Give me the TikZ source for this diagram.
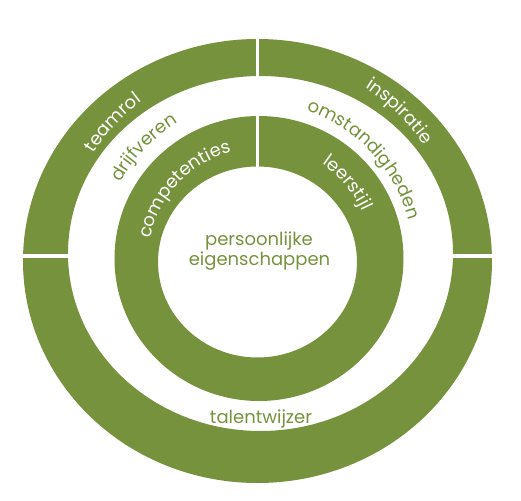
\documentclass[tikz,border=0pt]{standalone}
\usepackage{fontspec}
\setmainfont{Poppins}
\usetikzlibrary{decorations.text}
\definecolor{ringgreen}{HTML}{76923C}
\newcommand{\lblfont}{\fontsize{13.5}{16}\selectfont}
\tikzstyle{ring}=[fill=ringgreen,even odd rule]
\tikzstyle{gap}=[draw=white,line width=2.4pt]
\tikzstyle{mid}=[text=ringgreen,font=\lblfont,anchor=base,inner sep=0pt]
\tikzset{
  onring/.style={decorate,decoration={text along path,text align=center,
    text={|\lblfont\color{white}|#1}}},
  inwhite/.style={decorate,decoration={text along path,text align=center,
    text={|\lblfont\color{ringgreen}|#1}}}
}

\begin{document}
\begin{tikzpicture}[x=0.75pt,y=0.75pt]
  \useasboundingbox (-258,-242) rectangle (263,258);
  \begin{scope}
    \fill[ring] (-0.5,-3) ellipse [x radius=234.5,y radius=222]
                (2.5,4.5) ellipse [x radius=192.5,y radius=177.5];
    \fill[ring] (1,-0.5) ellipse [x radius=144.5,y radius=142.5]
                (-0.5,-4) ellipse [x radius=99.5,y radius=95.5];
    \draw[gap] (-0.5,230) -- (-0.5,85);
    \draw[gap,line width=3pt] (-265,2.5) -- (-175,2.5);
    \draw[gap,line width=3pt] (175,2.5) -- (265,2.5);
  \end{scope}
  \begin{scope}
    \path[onring=teamrol] (182:195) arc[start angle=182,end angle=92,radius=195];
    \path[inwhite=drijfveren] (181:157) arc[start angle=181,end angle=91,radius=157];
    \path[onring=competenties] (182:109) arc[start angle=182,end angle=92,radius=109];
    \path[onring=inspiratie] (91:201) arc[start angle=91,end angle=1,radius=201];
    \path[inwhite=omstandigheden] (88:155) arc[start angle=88,end angle=-2,radius=155];
    \path[onring=leerstijl] (85:114) arc[start angle=85,end angle=-5,radius=114];
  \end{scope}
  \node[mid] (pers) at (1,13) {persoonlijke};
  \node[mid] (eig) at (1.5,-7) {eigenschappen};
  \node[mid] (talent) at (3,-165) {talentwijzer};
\end{tikzpicture}
\end{document}
